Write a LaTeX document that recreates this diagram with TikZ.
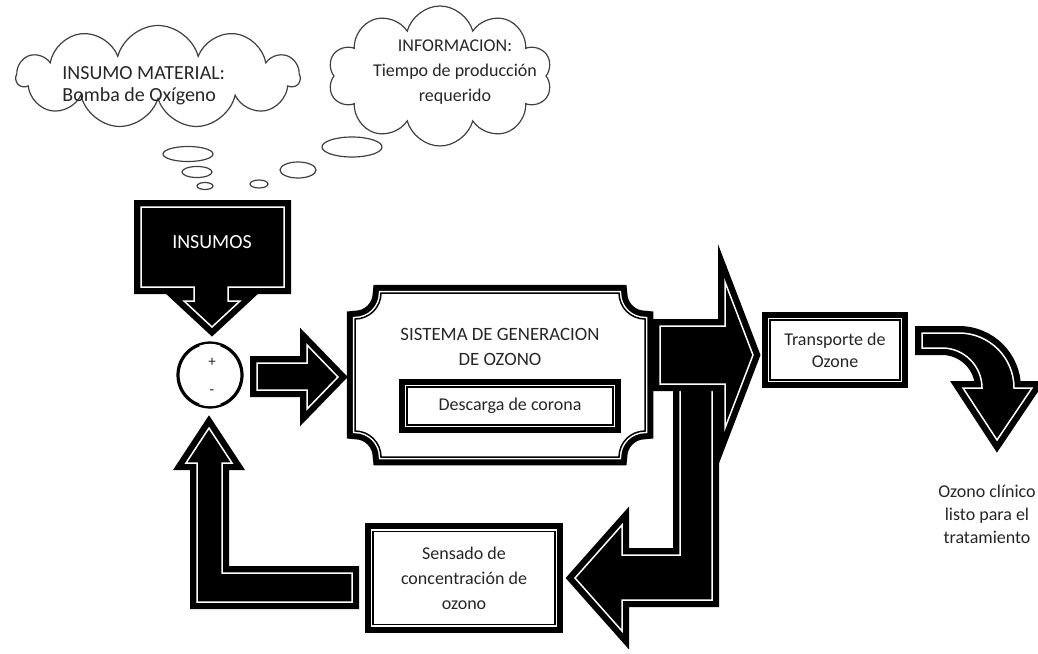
\documentclass[tikz,border=0pt]{standalone}
\usepackage{fontspec}
\setmainfont{Carlito}
\usetikzlibrary{shapes.symbols}
\begin{document}
\begin{tikzpicture}[x=0.5pt,y=-0.5pt,font=\fontsize{9}{12.5}\selectfont,
  marco/.style={draw=black,fill=white,line width=0.75pt,inner sep=0pt,align=center,text=black!85,
    preaction={draw=black,line width=8.25pt},preaction={draw=white,line width=2.25pt}},
  flecha/.style={fill=black,draw=white,line width=0.75pt,line join=miter,
    preaction={draw=black,line width=7pt}},
  nube/.style={cloud,draw=black!75,line width=0.6pt,cloud ignores aspect,inner sep=0pt},
  burbuja/.style={draw=black!75,line width=0.6pt},
  texto/.style={align=center,text=black!85,inner sep=0pt}]
\useasboundingbox (0,0) rectangle (1038,653);
\node[nube,cloud puffs=11,minimum width=141.5pt,minimum height=51.5pt] (nube1) at (158,77) {};
\node[nube,cloud puffs=10,minimum width=112pt,minimum height=70pt] (nube2) at (440,76) {};
\node[texto,align=left,anchor=west,font=\fontsize{10}{11}\selectfont] (material) at (62,86) {INSUMO MATERIAL:\\Bomba de Oxígeno};
\node[texto] (informacion) at (455,72) {INFORMACION:\\Tiempo de producción\\requerido};
\draw[burbuja] (188,154) ellipse [x radius=25,y radius=7.5];
\draw[burbuja] (197,172) ellipse [x radius=15,y radius=5.5];
\draw[burbuja] (205,186) ellipse [x radius=8,y radius=3.5];
\draw[burbuja] (259,184) ellipse [x radius=9,y radius=4];
\draw[burbuja] (298,170) ellipse [x radius=18,y radius=8];
\draw[burbuja] (352,147) ellipse [x radius=30,y radius=10];
\path[flecha] (141,207) -- (284,207) -- (284,287) -- (228,287) -- (228,301) -- (240,301) -- (212,327) -- (184,301) -- (194,301) -- (194,287) -- (141,287) -- cycle;
\node[texto,text=white,font=\fontsize{10}{12}\selectfont] (insumos) at (212,242) {INSUMOS};
\node[circle,draw,line width=1.6pt,minimum size=32pt,inner sep=0pt] (suma) at (210,375) {};
\draw[white,line width=0.6pt] (suma.center) ++(-110:30.6) arc[start angle=-110,end angle=-70,radius=30.6];
\draw[white,line width=0.6pt] (suma.center) ++(70:30.6) arc[start angle=70,end angle=110,radius=30.6];
\node[texto,font=\fontsize{7.5}{7.5}\selectfont] (mas) at (212,362) {+};
\node[texto,font=\fontsize{7.5}{7.5}\selectfont] (menos) at (212,392) {-};
\path[flecha] (257,363) -- (307,363) -- (307,345) -- (338,377) -- (307,409) -- (307,390) -- (257,390) -- cycle;
\path[marco] (381,293) -- (619,293) arc[start angle=180,end angle=90,radius=26] -- (645,431) arc[start angle=270,end angle=180,radius=26] -- (381,457) arc[start angle=0,end angle=-90,radius=26] -- (355,319) arc[start angle=90,end angle=0,radius=26] -- cycle;
\node[texto,font=\fontsize{9.4}{12.5}\selectfont] (sistema) at (500,347) {SISTEMA DE GENERACION\\DE OZONO};
\node[marco,minimum width=103pt,minimum height=19pt] (descarga) at (510,406) {Descarga de corona};
\path[flecha] (680,330) -- (680,555) -- (622,555) -- (622,525) -- (575,578) -- (622,631) -- (622,600) -- (712,600) -- (712,330) -- cycle;
\path[flecha] (660,326) -- (725,326) -- (725,282) -- (753,355) -- (725,428) -- (725,384) -- (660,384) -- cycle;
\node[marco,minimum width=65pt,minimum height=30pt,font=\fontsize{9}{11}\selectfont] (transporte) at (835,350) {Transporte de\\Ozone};
\path[flecha] (922,333) -- (959,333) arc[start angle=-90,end angle=0,radius=55] -- (1032,388) -- (997,440) -- (963,388) -- (982,388) arc[start angle=0,end angle=-90,radius=40] -- (922,348) -- cycle;
\node[texto,font=\fontsize{9}{11.5}\selectfont] (clinico) at (987,514) {Ozono clínico\\listo para el\\tratamiento};
\node[marco,minimum width=91pt,minimum height=46.5pt] (sensado) at (464,578) {Sensado de\\concentración de\\ozono};
\path[flecha] (352,573) -- (222,573) -- (222,463) -- (232,463) -- (209,428) -- (186,463) -- (197,463) -- (197,602) -- (352,602) -- cycle;
\end{tikzpicture}
\end{document}
